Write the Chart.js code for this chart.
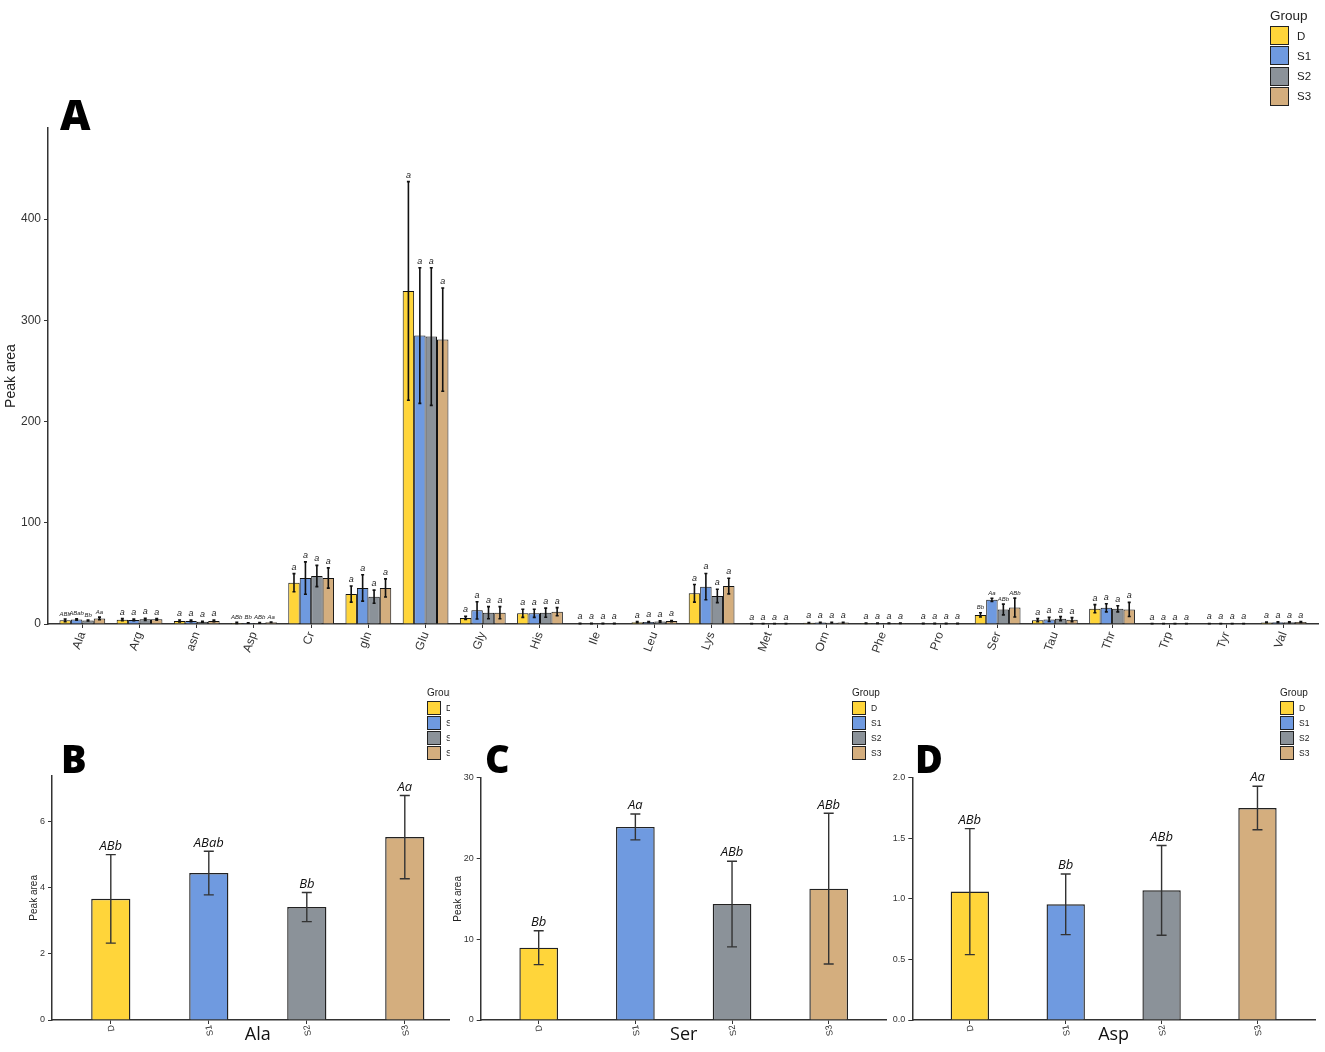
<!DOCTYPE html>
<html>
<head>
<meta charset="utf-8">
<script src="https://cdn.jsdelivr.net/npm/chart.js@4.4.1/dist/chart.umd.min.js"></script>
<style>
  body { margin: 0; background: #fff; }
  #page { position: relative; width: 1325px; height: 1052px; overflow: hidden; font-family: "Liberation Sans", Arial, sans-serif; }
  canvas { position: absolute; top: 0; }
  .panel { position: absolute; }
  .tag { position: absolute; font-family: "Open Sans", "DejaVu Sans", sans-serif; font-weight: 800; color: #000; white-space: nowrap; }
  .lg-title { position: absolute; color: #222; white-space: nowrap; }
  .lg-box { position: absolute; box-sizing: border-box; border: 1.5px solid #222; }
  .lg-label { position: absolute; display: flex; align-items: center; color: #222; white-space: nowrap; }
</style>
</head>
<body>
<div id="page">
  <canvas id="chartA" width="1325" height="690" style="left:0"></canvas>
  <div class="panel" id="panelB" style="left:0; top:680px; width:450px; height:372px; overflow:hidden;">
    <canvas id="chartB" width="470" height="372" style="left:0"></canvas>
  </div>
  <div class="panel" id="panelC" style="left:450px; top:680px; width:440px; height:372px;">
    <canvas id="chartC" width="440" height="372" style="left:0"></canvas>
  </div>
  <div class="panel" id="panelD" style="left:880px; top:680px; width:445px; height:372px;">
    <canvas id="chartD" width="445" height="372" style="left:0"></canvas>
  </div>
  <div class="tag" style="left:60px; top:93px; font-size:42px; line-height:42px;">A</div>
  <div class="tag" style="left:61px; top:739px; font-size:38px; line-height:38px;">B</div>
  <div class="tag" style="left:485px; top:739px; font-size:38px; line-height:38px;">C</div>
  <div class="tag" style="left:915px; top:739px; font-size:38px; line-height:38px;">D</div>
</div>
<script>
// amino acids and groups
const amino = ['Ala', 'Arg', 'asn', 'Asp', 'Cr', 'gln', 'Glu', 'Gly', 'His', 'Ile', 'Leu',
               'Lys', 'Met', 'Orn', 'Phe', 'Pro', 'Ser', 'Tau', 'Thr', 'Trp', 'Tyr', 'Val'];
const groups = ['D', 'S1', 'S2', 'S3'];
const groupColors = ['#FFD53A', '#6F9AE0', '#8B9299', '#D4AE7E'];

// mean peak area per group
const meanD  = [3.67, 4.3, 3.0, 1.06, 40.8, 29.6, 329, 6.0, 10.5, 0.5, 1.8, 30.3, 0.3, 1.2, 0.8, 0.5, 8.95, 3.8, 15.1, 0.3, 0.4, 1.6];
const meanS1 = [4.45, 4.0, 3.0, 0.955, 45.4, 35.6, 285, 13.5, 10.5, 0.5, 2.0, 36.9, 0.3, 1.4, 0.8, 0.5, 23.9, 4.5, 16.0, 0.3, 0.4, 1.8];
const meanS2 = [3.42, 4.6, 2.2, 1.07, 47.4, 27.0, 284, 11.2, 11.2, 0.5, 2.5, 27.7, 0.3, 1.3, 0.8, 0.5, 14.36, 5.3, 15.0, 0.3, 0.4, 1.8];
const meanS3 = [5.54, 4.6, 3.0, 1.75, 45.4, 35.6, 281, 11.2, 12.2, 0.5, 2.9, 37.5, 0.3, 1.4, 0.8, 0.5, 16.26, 4.3, 14.4, 0.3, 0.4, 1.9];

// error bar half lengths
const errD  = [1.34, 1.0, 1.0, 0.52, 9.0, 8.0, 108, 1.5, 4.0, 0.2, 0.5, 8.7, 0.1, 0.3, 0.2, 0.1, 2.1, 1.5, 4.0, 0.1, 0.1, 0.4];
const errS1 = [0.66, 0.8, 0.8, 0.25, 16.0, 13.0, 67, 8.5, 4.0, 0.2, 0.5, 13.0, 0.1, 0.3, 0.2, 0.1, 1.6, 2.0, 4.0, 0.1, 0.1, 0.4];
const errS2 = [0.44, 1.0, 0.5, 0.37, 10.5, 6.5, 68, 6.0, 4.5, 0.2, 0.6, 6.6, 0.1, 0.3, 0.2, 0.1, 5.3, 2.0, 3.0, 0.1, 0.1, 0.4];
const errS3 = [1.26, 0.8, 0.8, 0.18, 10.0, 9.0, 51, 6.0, 4.0, 0.2, 0.6, 7.7, 0.1, 0.3, 0.2, 0.1, 9.33, 2.0, 7.0, 0.1, 0.1, 0.4];

// significance letters
const sigD  = ['ABb', 'a', 'a', 'ABb', 'a', 'a', 'a', 'a', 'a', 'a', 'a', 'a', 'a', 'a', 'a', 'a', 'Bb', 'a', 'a', 'a', 'a', 'a'];
const sigS1 = ['ABab', 'a', 'a', 'Bb', 'a', 'a', 'a', 'a', 'a', 'a', 'a', 'a', 'a', 'a', 'a', 'a', 'Aa', 'a', 'a', 'a', 'a', 'a'];
const sigS2 = ['Bb', 'a', 'a', 'ABb', 'a', 'a', 'a', 'a', 'a', 'a', 'a', 'a', 'a', 'a', 'a', 'a', 'ABb', 'a', 'a', 'a', 'a', 'a'];
const sigS3 = ['Aa', 'a', 'a', 'Aa', 'a', 'a', 'a', 'a', 'a', 'a', 'a', 'a', 'a', 'a', 'a', 'a', 'ABb', 'a', 'a', 'a', 'a', 'a'];

// y tick values
const yTicksA = [0, 100, 200, 300, 400];
const yTicksB = [0, 2, 4, 6];
const yTicksC = [0, 10, 20, 30];
const yTicksD = [0, 0.5, 1.0, 1.5, 2.0];

Chart.defaults.font.family = '"Liberation Sans", Arial, sans-serif';
Chart.defaults.color = '#333';

const errorBars = {
  id: 'errorBars',
  afterDatasetsDraw(chart, args, o) {
    const ctx = chart.ctx;
    const ys = chart.scales.y;
    ctx.save();
    chart.data.datasets.forEach((ds, di) => {
      chart.getDatasetMeta(di).data.forEach((bar, i) => {
        const v = ds.data[i].y, e = ds.errors[i];
        const top = ys.getPixelForValue(v + e);
        const bot = ys.getPixelForValue(Math.max(v - e, 0));
        ctx.strokeStyle = o.lineColor;
        ctx.lineWidth = o.lineWidth;
        ctx.beginPath();
        ctx.moveTo(bar.x, top); ctx.lineTo(bar.x, bot);
        ctx.moveTo(bar.x - o.cap, top); ctx.lineTo(bar.x + o.cap, top);
        ctx.moveTo(bar.x - o.cap, bot); ctx.lineTo(bar.x + o.cap, bot);
        ctx.stroke();
        const s = ds.sigs[i];
        ctx.font = 'italic ' + (s.length > 1 ? o.smallSize : o.size) + 'px ' + o.family;
        ctx.fillStyle = o.textColor;
        ctx.textAlign = 'center';
        ctx.textBaseline = 'bottom';
        ctx.fillText(s, bar.x, top - o.gap);
      });
    });
    ctx.restore();
  }
};

function xScale(labels, rotation, fontSize, height, title) {
  return {
    type: 'linear',
    offset: false,
    min: -0.6,
    max: labels.length - 0.4,
    afterBuildTicks: s => { s.ticks = labels.map((_, i) => ({ value: i })); },
    afterFit: s => { s.height = height; },
    ticks: {
      autoSkip: false, minRotation: rotation, maxRotation: rotation,
      font: { size: fontSize }, color: '#333', padding: 2,
      callback: v => labels[v]
    },
    grid: { offset: false, drawOnChartArea: false, drawTicks: true, tickLength: 4, color: '#333', lineWidth: 1 },
    border: { display: true, color: '#333', width: 1.5 },
    title: title ? { display: true, text: title, font: { family: '"Open Sans", sans-serif', size: 18 },
                     color: '#111', padding: { top: 0, bottom: 6 } } : { display: false }
  };
}

function yScale(max, ticks, width, fontSize, title, titleSize, titlePad, fmt) {
  return {
    min: 0,
    max: max,
    afterBuildTicks: s => { s.ticks = ticks.map(v => ({ value: v })); },
    afterFit: s => { s.width = width; },
    ticks: { font: { size: fontSize }, color: '#333', padding: 3, callback: fmt || (v => v) },
    grid: { drawOnChartArea: false, drawTicks: true, tickLength: 4, color: '#333', lineWidth: 1 },
    border: { display: true, color: '#333', width: 1.5 },
    title: title ? { display: true, text: title, font: { size: titleSize }, color: '#222',
                     padding: { top: titlePad, bottom: 0 } } : { display: false }
  };
}

function addLegend(parent, x, y, box, step, titleSize, labelSize, labelGap) {
  const t = document.createElement('div');
  t.className = 'lg-title';
  t.style.left = x + 'px';
  t.style.top = (y - titleSize * 1.2) + 'px';
  t.style.fontSize = titleSize + 'px';
  t.style.lineHeight = (titleSize * 1.2) + 'px';
  t.textContent = 'Group';
  parent.appendChild(t);
  groups.forEach((g, i) => {
    const b = document.createElement('div');
    b.className = 'lg-box';
    b.style.left = x + 'px';
    b.style.top = (y + 2 + i * step) + 'px';
    b.style.width = box + 'px';
    b.style.height = box + 'px';
    b.style.background = groupColors[i];
    parent.appendChild(b);
    const l = document.createElement('div');
    l.className = 'lg-label';
    l.style.left = (x + box + labelGap) + 'px';
    l.style.top = (y + 2 + i * step) + 'px';
    l.style.height = box + 'px';
    l.style.fontSize = labelSize + 'px';
    l.textContent = g;
    parent.appendChild(l);
  });
}

// panel A
const meansA = [meanD, meanS1, meanS2, meanS3];
const errsA = [errD, errS1, errS2, errS3];
const sigsA = [sigD, sigS1, sigS2, sigS3];

new Chart(document.getElementById('chartA'), {
  type: 'bar',
  data: {
    datasets: groups.map((g, k) => ({
      label: g,
      data: meansA[k].map((v, i) => ({ x: i, y: v })),
      errors: errsA[k],
      sigs: sigsA[k],
      backgroundColor: groupColors[k],
      borderColor: '#111',
      borderWidth: 1,
      categoryPercentage: 0.8,
      barPercentage: 1
    }))
  },
  options: {
    responsive: false,
    animation: false,
    layout: { padding: { top: 128, right: 7, left: 0, bottom: 0 } },
    scales: {
      x: xScale(amino, 70, 12, 66, null),
      y: yScale(490, yTicksA, 48, 12, 'Peak area', 14, 3)
    },
    plugins: {
      legend: { display: false },
      tooltip: { enabled: false },
      errorBars: { cap: 1.5, lineWidth: 1.6, lineColor: '#111', textColor: '#222',
                   size: 9, smallSize: 6, family: '"Liberation Sans", Arial, sans-serif', gap: 2 }
    }
  },
  plugins: [errorBars]
});

// panels B, C, D: single amino acids across groups
function pick(idx, arrs) { return arrs.map(a => a[idx]); }

function smallPanel(id, idx, yMax, yTicks, yWidth, pad, title, titlePad, fmt) {
  const means = pick(idx, meansA);
  new Chart(document.getElementById(id), {
    type: 'bar',
    data: {
      datasets: [{
        data: means.map((v, i) => ({ x: i, y: v })),
        errors: pick(idx, errsA),
        sigs: pick(idx, sigsA),
        backgroundColor: groupColors,
        borderColor: '#222',
        borderWidth: 1.4,
        categoryPercentage: 1,
        barPercentage: 0.4
      }]
    },
    options: {
      responsive: false,
      animation: false,
      layout: { padding: pad },
      scales: {
        x: xScale(groups, 100, 9, 32, amino[idx]),
        y: yScale(yMax, yTicks, yWidth, 9, title, 10, titlePad, fmt)
      },
      plugins: {
        legend: { display: false },
        tooltip: { enabled: false },
        errorBars: { cap: 5, lineWidth: 1.4, lineColor: '#333', textColor: '#111',
                     size: 13, smallSize: 13, family: '"Open Sans", sans-serif', gap: 2 }
      }
    },
    plugins: [errorBars]
  });
}

smallPanel('chartB', 0, 7.4, yTicksB, 28, { top: 95.7, left: 24, right: 6.4, bottom: 0 }, 'Peak area', 4);
smallPanel('chartC', 16, 30, yTicksC, 30.7, { top: 97.7, left: 0, right: 3.3, bottom: 0 }, 'Peak area', 2);
smallPanel('chartD', 3, 2.0, yTicksD, 32.3, { top: 97.7, left: 0, right: 10, bottom: 0 }, null, 0, v => v.toFixed(1));

// legends
const page = document.getElementById('page');
addLegend(page, 1270, 24, 19, 20.3, 13.5, 11.5, 8);
addLegend(document.getElementById('panelB'), 427, 19, 14, 15.1, 10, 8.5, 5);
addLegend(document.getElementById('panelC'), 402, 19, 14, 15.1, 10, 8.5, 5);
addLegend(document.getElementById('panelD'), 400, 19, 14, 15.1, 10, 8.5, 5);
</script>
</body>
</html>
